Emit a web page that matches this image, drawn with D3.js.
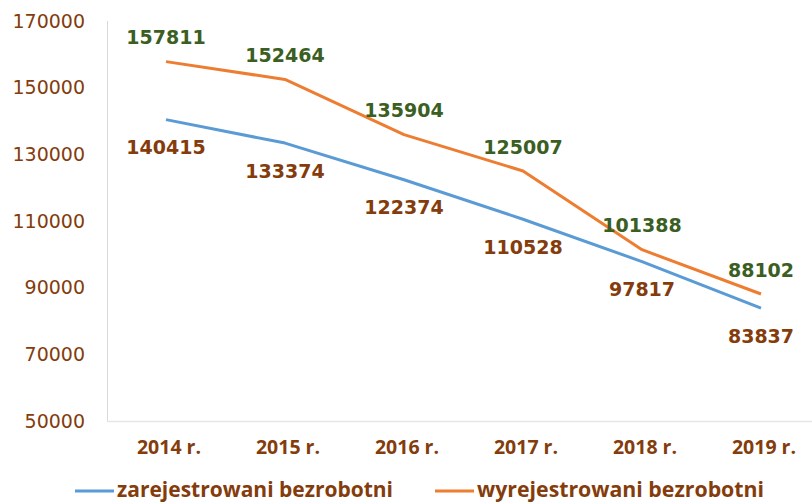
<!DOCTYPE html>
<html>
<head>
<meta charset="utf-8">
<script src="https://cdn.jsdelivr.net/npm/d3@7"></script>
<style>
  body { margin: 0; background: #fff; }
  svg { display: block; font-family: "DejaVu Sans", sans-serif; }
</style>
</head>
<body>
<div id="chart"></div>
<script>
// dane
var years = ["2014 r.", "2015 r.", "2016 r.", "2017 r.", "2018 r.", "2019 r."];
var zarejestrowani = [140415, 133374, 122374, 110528, 97817, 83837];
var wyrejestrowani = [157811, 152464, 135904, 125007, 101388, 88102];
var yTicks = [50000, 70000, 90000, 110000, 130000, 150000, 170000];
var seriesNames = ["zarejestrowani bezrobotni", "wyrejestrowani bezrobotni"];

var w = 812, h = 504;
var brown = "#843C0C", green = "#3B5E23";
var blue = "#5B9BD5", orange = "#ED7D31";

var svg = d3.select("#chart").append("svg").attr("width", w).attr("height", h);

// skale
var x = d3.scalePoint().domain(years).range([166, 761]);
var y = d3.scaleLinear().domain([50000, 170000]).range([421, 21]);

// osie
svg.append("line").attr("x1", 107.5).attr("y1", 21).attr("x2", 107.5).attr("y2", 421)
   .attr("stroke", "#d9d9d9").attr("stroke-width", 1);
svg.append("line").attr("x1", 107).attr("y1", 421.5).attr("x2", w).attr("y2", 421.5)
   .attr("stroke", "#e6e6e6").attr("stroke-width", 1.5);

svg.selectAll(".ytick").data(yTicks).enter().append("text")
   .attr("x", 85).attr("y", function (d) { return y(d); })
   .attr("dy", "0.35em").attr("text-anchor", "end")
   .attr("font-size", 19).attr("fill", brown)
   .text(function (d) { return d; });

svg.selectAll(".xtick").data(years).enter().append("text")
   .attr("x", function (d) { return x(d) + 3; }).attr("y", 454)
   .attr("text-anchor", "middle")
   .attr("font-family", "'Open Sans', sans-serif")
   .attr("font-size", 19.5).attr("font-weight", "bold").attr("fill", brown)
   .text(function (d) { return d; });

// linie
var line = d3.line()
   .x(function (d, i) { return x(years[i]); })
   .y(function (d) { return y(d); });

svg.append("path").attr("d", line(zarejestrowani)).attr("fill", "none")
   .attr("stroke", blue).attr("stroke-width", 3).attr("stroke-linejoin", "round");
svg.append("path").attr("d", line(wyrejestrowani)).attr("fill", "none")
   .attr("stroke", orange).attr("stroke-width", 3).attr("stroke-linejoin", "round");

// etykiety danych
svg.selectAll(".lblz").data(zarejestrowani).enter().append("text")
   .attr("x", function (d, i) { return x(years[i]); })
   .attr("y", function (d) { return y(d) + 28; })
   .attr("dy", "0.35em").attr("text-anchor", "middle")
   .attr("font-size", 19).attr("font-weight", "bold").attr("fill", brown)
   .text(function (d) { return d; });

svg.selectAll(".lblw").data(wyrejestrowani).enter().append("text")
   .attr("x", function (d, i) { return x(years[i]); })
   .attr("y", function (d) { return y(d) - 24; })
   .attr("dy", "0.35em").attr("text-anchor", "middle")
   .attr("font-size", 19).attr("font-weight", "bold").attr("fill", green)
   .text(function (d) { return d; });

// legenda
var legend = [{name: seriesNames[0], color: blue, x: 75, len: 276}, {name: seriesNames[1], color: orange, x: 435, len: 287}];
var lg = svg.selectAll(".legend").data(legend).enter().append("g");
lg.append("line")
   .attr("x1", function (d) { return d.x; }).attr("x2", function (d) { return d.x + 39; })
   .attr("y1", 491).attr("y2", 491)
   .attr("stroke", function (d) { return d.color; }).attr("stroke-width", 3);
lg.append("text")
   .attr("x", function (d) { return d.x + 42; }).attr("y", 497)
   .attr("font-family", "'Open Sans', sans-serif")
   .attr("textLength", function (d) { return d.len; })
   .attr("lengthAdjust", "spacingAndGlyphs")
   .attr("font-size", 22).attr("font-weight", "bold").attr("fill", brown)
   .text(function (d) { return d.name; });
</script>
</body>
</html>
